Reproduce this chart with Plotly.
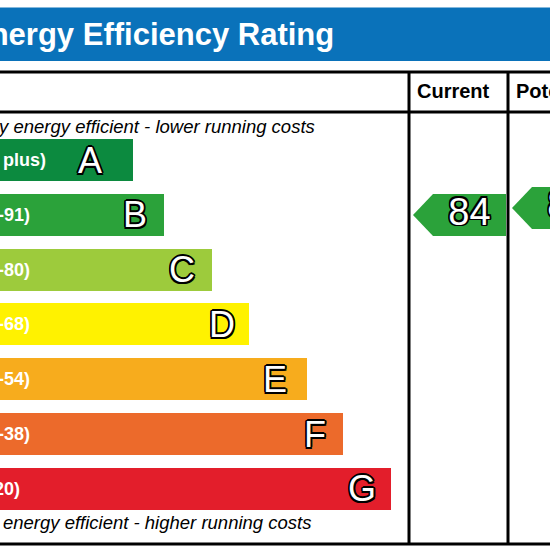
import plotly.graph_objects as go

# ---------------- data ----------------
bands = ["A", "B", "C", "D", "E", "F", "G"]
band_ranges = ["(92 plus)", "(81-91)", "(69-80)", "(55-68)", "(39-54)", "(21-38)", "(1-20)"]
band_colors = ["#0c8a3f", "#2ba23a", "#9dcb3c", "#fff200", "#f7ac1d", "#ec6a2b", "#e31e2b"]
bar_length = [168, 199, 247, 284, 342, 378, 426]
current_score = 84
potential_score = 86
column_titles = ["Current", "Potential"]
title_text = "Energy Efficiency Rating"
top_note = "Very energy efficient - lower running costs"
bottom_note = "Not energy efficient - higher running costs"

# ---------------- layout helpers ----------------
W = H = 550
X_RANGE = [35, 585]           # chart units, visible window
ROW_PX = 54.83
FIRST_ROW_PX = 160
Y_RANGE = [(H - FIRST_ROW_PX) / ROW_PX, -FIRST_ROW_PX / ROW_PX]
PX_PER_PT = 3.5
SCORE_RANGE = [-11.71, 145.43]
COL_LEFT = [444, 543]
BLUE = "#0a72ba"
FONT = "Liberation Sans, Arial, sans-serif"
LETTER_PAD = [29, 15, 15, 12, 18, 15, 13]
OUTLINE = ", ".join(f"{dx}px {dy}px 0 #000" for dx, dy in
                    [(-1.5, -1.5), (1.5, -1.5), (-1.5, 1.5), (1.5, 1.5),
                     (0, 1.7), (0, -1.7), (1.7, 0), (-1.7, 0)])


def px_x(v):
    return (v - X_RANGE[0]) / (X_RANGE[1] - X_RANGE[0])


def py(p):
    return 1 - p / H


fig = go.Figure()

# bars
fig.add_trace(go.Bar(
    y=list(range(len(bands))), x=bar_length, orientation="h",
    marker=dict(color=band_colors, line=dict(width=0)),
    width=42 / ROW_PX, hoverinfo="skip", showlegend=False,
))

# arrows
half = 21 / PX_PER_PT
for col, score in zip(COL_LEFT, [current_score, potential_score]):
    xs = [col + 4, col + 24, col + 97, col + 97, col + 24, col + 4]
    ys = [score, score + half, score + half, score - half, score - half, score]
    fig.add_trace(go.Scatter(
        x=xs, y=ys, yaxis="y2", mode="lines", fill="toself",
        fillcolor=band_colors[1], line=dict(width=0, color=band_colors[1]),
        hoverinfo="skip", showlegend=False,
    ))
fig.add_trace(go.Scatter(
    x=[c + 60.5 for c in COL_LEFT], y=[current_score, potential_score], yaxis="y2",
    mode="text", text=[str(current_score), str(potential_score)],
    textposition="middle center", cliponaxis=True,
    textfont=dict(family=FONT, size=38, color="white", shadow=OUTLINE),
    hoverinfo="skip", showlegend=False,
))

annotations = []
# band letters
for i, (b, L) in enumerate(zip(bands, bar_length)):
    annotations.append(dict(
        x=L, y=i, xref="x", yref="y", text=b, showarrow=False,
        xanchor="right", yanchor="middle", xshift=-LETTER_PAD[i],
        font=dict(family=FONT, size=36, color="white", shadow=OUTLINE),
    ))
# band ranges
for i, r in enumerate(band_ranges):
    annotations.append(dict(
        x=px_x(5), y=i, xref="paper", yref="y", text=r, showarrow=False,
        xanchor="left", yanchor="middle",
        font=dict(family=FONT, size=18, color="white", weight="bold"),
    ))
# title
annotations.append(dict(
    x=px_x(2), y=py(35), xref="paper", yref="paper", text=title_text, showarrow=False,
    xanchor="left", yanchor="middle",
    font=dict(family=FONT, size=31, color="white", weight="bold"),
))
# notes
annotations.append(dict(
    x=px_x(4), y=py(126), xref="paper", yref="paper", text=top_note, showarrow=False,
    xanchor="left", yanchor="middle",
    font=dict(family=FONT, size=18.5, color="black", style="italic"),
))
annotations.append(dict(
    x=px_x(1.5), y=py(522), xref="paper", yref="paper", text=bottom_note, showarrow=False,
    xanchor="left", yanchor="middle",
    font=dict(family=FONT, size=18.5, color="black", style="italic"),
))
# column headers
for col, t in zip(COL_LEFT, column_titles):
    annotations.append(dict(
        x=col + 6, y=py(91), xref="x", yref="paper", text=t, showarrow=False,
        xanchor="left", yanchor="middle",
        font=dict(family=FONT, size=20, color="black", weight="bold"),
    ))

shapes = [
    dict(type="rect", xref="paper", yref="paper", x0=-0.1, x1=1.1, y0=py(61), y1=py(7.5),
         fillcolor=BLUE, line=dict(width=0), layer="below"),
]
for p in [72, 112, 544]:
    shapes.append(dict(type="line", xref="paper", yref="paper", x0=-0.1, x1=1.1,
                       y0=py(p), y1=py(p), line=dict(color="black", width=3)))
for col in COL_LEFT:
    shapes.append(dict(type="line", xref="x", yref="paper", x0=col, x1=col,
                       y0=py(544), y1=py(72), line=dict(color="black", width=3)))

fig.update_layout(
    width=W, height=H, margin=dict(l=0, r=0, t=0, b=0),
    paper_bgcolor="white", plot_bgcolor="white",
    xaxis=dict(range=X_RANGE, visible=False, fixedrange=True),
    yaxis=dict(range=Y_RANGE, visible=False, fixedrange=True),
    yaxis2=dict(range=SCORE_RANGE, overlaying="y", visible=False, fixedrange=True),
    annotations=annotations, shapes=shapes, bargap=0, hovermode=False,
)

fig.write_html("out.html")
